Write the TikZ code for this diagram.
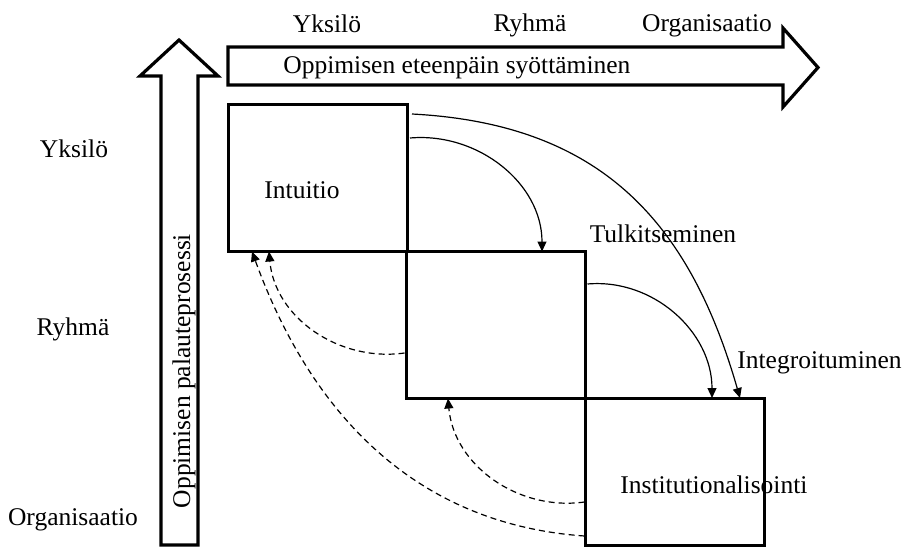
\documentclass[tikz,border=0pt]{standalone}
\usepackage{fontspec}
\setmainfont{Liberation Serif}
\usetikzlibrary{arrows.meta,calc}

\tikzset{
  lbl/.style={font=\fontsize{12.75pt}{15pt}\selectfont, inner sep=0pt, anchor=base},
  stage/.style={draw, line width=1.5pt, minimum width=89.5pt, minimum height=73.5pt,
                inner sep=0pt, outer sep=0pt},
  bigarrow/.style={draw, line width=1.6pt, line join=miter, fill=white},
  feed/.style={line width=0.6pt, -{Triangle[length=5pt,width=4.5pt]}},
  back/.style={feed, dash pattern=on 3pt off 2pt},
}

\begin{document}
\begin{tikzpicture}[x=0.5pt, y=0.5pt]
  \useasboundingbox (0,0) rectangle (906,-547);

  % vertical feedback arrow
  \draw[bigarrow] (161,-545) -- (161,-76) -- (140,-76) -- (179,-40)
        -- (218,-76) -- (198,-76) -- (198,-545) -- cycle;
  \node[lbl, rotate=90, anchor=center] (fbtext) at (184,-371) {Oppimisen palauteprosessi};

  % horizontal feed-forward arrow
  \draw[bigarrow] (228,-47) -- (783,-47) -- (783,-28) -- (818,-67.5)
        -- (783,-107) -- (783,-85) -- (228,-85) -- cycle;
  \node[lbl, anchor=base west] (fftext) at (283,-73) {Oppimisen eteenpäin syöttäminen};

  % level headings
  \node[lbl] (tYks) at (327,-32) {Yksilö};
  \node[lbl] (tRyh) at (530,-31) {Ryhmä};
  \node[lbl] (tOrg) at (707,-31) {Organisaatio};
  \node[lbl] (lYks) at (74,-157) {Yksilö};
  \node[lbl] (lRyh) at (73,-335) {Ryhmä};
  \node[lbl] (lOrg) at (73,-525) {Organisaatio};

  % stage labels (set before the frames, which run over them)
  \node[lbl] (intu) at (302,-198) {Intuitio};
  \node[lbl, anchor=base west] (inst) at (620,-493) {Institutionalisointi};
  \node[lbl] (tulk) at (663,-242) {Tulkitseminen};
  \node[lbl, anchor=base west] (integ) at (737,-368) {Integroituminen};

  % the three stages
  \node[stage] (b1) at (317.5,-178) {};
  \node[stage] (b2) at (496,-325) {};
  \node[stage] (b3) at (675,-471.5) {};

  % feed-forward flows
  \draw[feed] ($(b1.east)+(3,40)$) to[out=5, in=90] ($(b2.north)+(46,0)$);
  \draw[feed] ($(b1.east)+(5,64)$) to[out=-3, in=106, looseness=1.1] ($(b3.north)+(65,0)$);
  \draw[feed] ($(b2.east)+(2,41)$) to[out=5, in=90] ($(b3.north)+(37,0)$);

  % feedback flows
  \draw[back] ($(b2.west)+(-2,-28)$) to[out=188, in=-85] ($(b1.south)+(-48.5,0)$);
  \draw[back] ($(b3.west)+(-1,-30.5)$) to[out=188, in=-85] ($(b2.south)+(-48,0)$);
  \draw[back] ($(b3.west)+(-1,-64.5)$) to[out=176, in=-70] ($(b1.south)+(-65.5,0)$);
\end{tikzpicture}
\end{document}
